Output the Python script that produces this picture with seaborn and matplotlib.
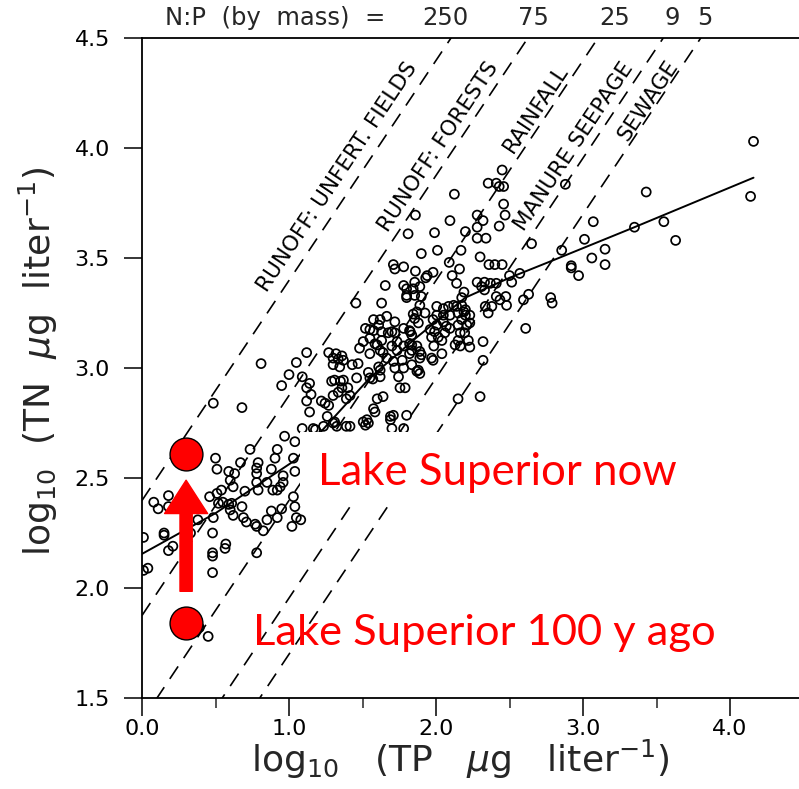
import numpy as np
import pandas as pd
import matplotlib
matplotlib.use("Agg")
import matplotlib.pyplot as plt
import seaborn as sns
from matplotlib.patches import Rectangle, FancyArrowPatch

# ---------------- data ----------------
tp = [
    0.01, 0.01, 0.04, 0.08, 0.11, 0.18, 0.18, 0.15, 0.15, 0.21, 0.18, 0.33, 0.38, 0.45, 0.39,
    0.48, 0.48, 0.48, 0.48, 0.57, 0.565, 0.78, 0.485, 0.68, 0.97, 1.04, 0.735, 0.92, 0.50, 0.67,
    0.79, 0.905, 0.51, 0.59, 0.63, 0.78, 0.78, 0.88, 1.04, 0.60, 0.54, 0.51, 0.62, 0.70, 0.78,
    0.79, 0.85, 0.89, 0.92, 0.96, 0.96, 0.94, 1.03, 1.04, 0.46, 0.52, 0.55, 0.59, 0.61, 0.60,
    0.62, 0.68, 0.69, 0.71, 0.77, 0.78, 0.825, 0.85, 0.88, 0.92, 0.95, 1.02, 0.485, 1.03, 1.08,
    1.05,
    0.81, 0.95, 1.05, 1.12, 1.00, 1.09, 1.14, 1.12, 1.15, 1.12, 1.14, 1.27, 1.30, 1.32, 1.335,
    1.345, 1.30, 1.43, 1.47, 1.31, 1.29, 1.35, 1.37, 1.36, 1.40, 1.335, 1.415, 1.30, 1.46, 1.55,
    1.54, 1.57, 1.62, 1.61, 1.62, 1.64, 1.70, 1.72, 1.675, 1.61, 1.575, 1.55, 1.585, 1.63, 1.48,
    1.62, 1.665, 1.63, 1.39, 1.22, 1.245, 1.27, 1.60, 1.64, 1.665, 1.71, 1.72, 1.745, 1.78, 1.755,
    1.79, 1.835, 1.87, 1.575, 1.585, 1.69, 1.71, 1.80, 1.26, 1.31, 1.39, 1.415, 1.505, 1.52, 1.09,
    1.18, 1.78, 1.165, 1.235, 1.30, 1.325, 1.54, 1.53, 1.69, 1.70, 1.36, 1.37,
    1.655, 1.63, 1.455, 1.575, 1.72, 1.52, 1.55, 1.70, 1.78, 1.825, 1.505, 1.60, 1.735, 1.55, 1.62,
    1.735, 1.835, 1.835,
    1.71, 1.78, 1.72, 1.86, 1.81, 1.99, 2.095, 2.125, 2.28, 2.32, 2.28, 2.20, 2.28, 2.34, 2.45,
    2.355, 2.41, 2.43, 2.46, 2.46, 2.47, 2.43, 1.90, 2.01, 2.17, 2.30, 2.65, 2.09, 2.16, 2.36,
    2.40, 2.45, 1.86, 1.94, 1.98, 1.93, 2.11, 2.14, 1.78, 1.80, 1.855, 1.845, 1.89, 1.80, 1.855,
    1.90, 1.80, 1.89, 1.87, 1.925, 1.845, 2.28, 2.33, 2.31, 2.33, 2.37, 2.41, 2.50, 2.515, 2.57,
    2.19, 2.175, 2.005, 2.05, 2.085, 2.12, 2.14, 2.175, 2.20, 2.005, 2.05, 2.095, 2.15, 2.20, 2.23,
    2.335, 2.38, 2.355, 2.435, 2.475, 2.48, 2.41, 2.595, 2.63,
    1.98, 2.005, 1.99, 1.96, 1.97, 2.015, 2.04, 2.06, 2.07, 2.095, 2.05, 2.15, 2.165, 2.15, 2.195,
    2.23, 2.13, 2.165, 2.22, 2.23, 1.82, 1.835, 1.82, 1.78, 1.89, 1.90, 1.89, 1.98, 2.04, 1.77,
    1.87, 1.82, 2.19, 2.21, 2.175, 1.97, 1.985, 1.88, 1.855, 1.88, 1.89, 2.32, 2.32, 2.30, 2.15,
    2.61,
    4.16, 4.14, 3.43, 2.88, 3.07, 3.01, 3.35, 3.55, 3.63, 2.855, 3.15, 3.15, 3.06, 2.92, 2.92,
    2.97, 2.78, 2.79,
]
tn = [
    2.23, 2.08, 2.09, 2.39, 2.36, 2.42, 2.37, 2.25, 2.24, 2.19, 2.17, 2.25, 2.31, 1.78, 1.82,
    2.25, 2.16, 2.145, 2.07, 2.20, 2.18, 2.16, 2.84, 2.82, 2.69, 2.665, 2.63, 2.63, 2.59, 2.57,
    2.57, 2.59, 2.54, 2.53, 2.52, 2.545, 2.52, 2.54, 2.53, 2.49, 2.445, 2.43, 2.46, 2.44, 2.48,
    2.445, 2.48, 2.445, 2.445, 2.51, 2.48, 2.46, 2.415, 2.37, 2.415, 2.385, 2.39, 2.38, 2.385, 2.355,
    2.33, 2.37, 2.32, 2.30, 2.29, 2.28, 2.26, 2.31, 2.35, 2.32, 2.36, 2.28, 2.32, 2.59, 2.31,
    2.32,
    3.02, 2.92, 3.025, 3.07, 2.97, 2.96, 2.93, 2.91, 2.88, 2.85, 2.80, 3.07, 3.045, 3.065, 3.04,
    3.005, 3.015, 3.015, 3.02, 2.945, 2.94, 2.94, 2.945, 2.91, 2.91, 2.89, 2.875, 2.875, 2.955, 2.955,
    2.98, 2.95, 2.96, 3.005, 2.99, 3.07, 3.10, 3.16, 3.16, 3.195, 3.17, 3.135, 3.11, 3.125, 3.09,
    3.22, 3.235, 3.165, 2.86, 2.85, 2.84, 2.83, 2.86, 2.87, 3.045, 3.03, 3.00, 2.96, 3.00, 2.91,
    2.91, 3.015, 2.985, 2.815, 2.80, 2.78, 2.785, 2.785, 2.78, 2.755, 2.735, 2.735, 2.755, 2.74, 2.725,
    2.72, 2.725, 2.725, 2.735, 2.75, 2.735, 2.75, 2.765, 2.765, 2.725, 3.055, 3.035,
    3.375, 3.295, 3.295, 3.22, 3.21, 3.18, 3.175, 3.165, 3.18, 3.165, 3.12, 3.105, 3.12, 3.065, 3.08,
    3.08, 3.105, 3.08,
    3.47, 3.46, 3.45, 3.695, 3.61, 3.615, 3.67, 3.79, 3.695, 3.67, 3.64, 3.62, 3.59, 3.59, 3.90,
    3.84, 3.84, 3.825, 3.825, 3.745, 3.695, 3.645, 3.52, 3.535, 3.535, 3.505, 3.565, 3.48, 3.45, 3.47,
    3.47, 3.47, 3.44, 3.42, 3.435, 3.41, 3.42, 3.385, 3.375, 3.36, 3.39, 3.36, 3.37, 3.33, 3.33,
    3.325, 3.32, 3.285, 3.255, 3.25, 3.245, 3.39, 3.39, 3.37, 3.355, 3.385, 3.385, 3.42, 3.39, 3.43,
    3.345, 3.32, 3.28, 3.27, 3.28, 3.285, 3.28, 3.285, 3.265, 3.24, 3.24, 3.24, 3.25, 3.24, 3.24,
    3.28, 3.28, 3.25, 3.31, 3.325, 3.285, 3.325, 3.31, 3.335,
    3.22, 3.195, 3.165, 3.175, 3.14, 3.14, 3.125, 3.16, 3.19, 3.18, 3.21, 3.195, 3.16, 3.125, 3.16,
    3.205, 3.105, 3.10, 3.125, 3.095, 3.17, 3.15, 3.11, 3.10, 3.075, 3.06, 3.045, 3.035, 3.065, 3.035,
    3.10, 3.065, 3.255, 3.195, 3.22, 3.045, 3.10, 3.205, 3.225, 2.99, 2.975, 3.12, 3.035, 2.87, 2.86,
    3.18,
    4.03, 3.78, 3.80, 3.835, 3.665, 3.585, 3.64, 3.665, 3.58, 3.535, 3.54, 3.47, 3.50, 3.465, 3.455,
    3.42, 3.32, 3.295,
]

# fitted relation (solid line)
fit_tp = [0.0, 0.5, 1.04, 1.55, 1.87, 2.2, 2.5, 2.78, 3.35, 4.16]
fit_tn = [2.155, 2.34, 2.58, 2.955, 3.14, 3.32, 3.41, 3.485, 3.64, 3.865]

# N:P (by mass) reference ratios
np_ratios = [250, 75, 25, 9, 5]
np_ratio_labels = ["250", "75", "25", "9", "5"]
source_labels = ["RUNOFF: UNFERT. FIELDS", "RUNOFF: FORESTS", "RAINFALL",
                 "MANURE SEEPAGE", "SEWAGE"]

# Lake Superior annotations
lake_tp = [0.3, 0.3]
lake_tn = [1.84, 2.61]
lake_labels = ["Lake Superior 100 y ago", "Lake Superior now"]

x_ticks = [0.0, 1.0, 2.0, 3.0, 4.0]
y_ticks = [1.5, 2.0, 2.5, 3.0, 3.5, 4.0, 4.5]

# ---------------- figure ----------------
sns.set_theme(style="ticks")
plt.rcParams["font.family"] = ["DejaVu Sans"]
plt.rcParams["mathtext.fontset"] = "dejavusans"

W, H = 799, 789
fig = plt.figure(figsize=(W / 100, H / 100), dpi=100)
ax = fig.add_axes([142 / W, (H - 698) / H, (W - 142) / W, 660 / H])

# dashed N:P lines
line_x = np.array([0.0, 4.6])
for r in np_ratios:
    dfl = pd.DataFrame({"tp": line_x, "tn": line_x + np.log10(r)})
    sns.lineplot(data=dfl, x="tp", y="tn", ax=ax, color="black", lw=1.2,
                 linestyle=(0, (9, 6)), estimator=None, sort=False, zorder=2)

# scatter of lakes
df = pd.DataFrame({"tp": tp, "tn": tn})
sns.scatterplot(data=df, x="tp", y="tn", ax=ax, marker="o", s=42,
                facecolor="none", edgecolor="black", linewidth=1.25, zorder=3)
ax.collections[-1].set_facecolor("none")

# fitted line
dff = pd.DataFrame({"tp": fit_tp, "tn": fit_tn})
sns.lineplot(data=dff, x="tp", y="tn", ax=ax, color="black", lw=1.4,
             estimator=None, sort=False, zorder=4)

ax.set_xlim(0, (W - 142) / 147)
ax.set_ylim(1.5, 4.5)

# source labels along dashed lines
src_pos = [(1.327, 3.868), (2.014, 4.005), (2.68, 4.18), (2.939, 4.005), (3.442, 4.218)]
for (sx, sy), lab in zip(src_pos, source_labels):
    ax.text(sx, sy, lab, rotation=45, transform_rotates_text=True,
            rotation_mode="anchor", ha="center", va="center", fontsize=15.5,
            color="black", zorder=4)

# white box behind "now" text
ax.add_patch(Rectangle((1.075, 2.373), 3.3, 2.709 - 2.373, facecolor="white",
                       edgecolor="none", zorder=5))

# arrow and red points
arr = FancyArrowPatch((lake_tp[0], lake_tn[0] + 0.145), (lake_tp[1], lake_tn[1] - 0.12),
                      arrowstyle="simple,head_length=24,head_width=31,tail_width=8.8",
                      mutation_scale=1, color="#ff0000", shrinkA=0, shrinkB=0, zorder=6)
ax.add_patch(arr)
sns.scatterplot(x=lake_tp, y=lake_tn, ax=ax, s=560, color="#ff0000",
                edgecolor="black", linewidth=1.0, zorder=7)

# red text labels
fig.text(318 / W, 1 - 485 / H, lake_labels[1], color="#ff0000", fontsize=31.5,
         family=["Lato", "DejaVu Sans"], ha="left", va="baseline", zorder=8)
fig.text(253 / W, 1 - 645 / H, lake_labels[0], color="#ff0000", fontsize=31.3,
         family=["Lato", "DejaVu Sans"], ha="left", va="baseline", zorder=8)

# top N:P labels
fig.text(275 / W, 1 - 18 / H, "N:P  (by  mass)  =", ha="center", va="center", fontsize=17.5)
for px, lab in zip([445, 533, 615, 672, 704.5], np_ratio_labels):
    fig.text(px / W, 1 - 18 / H, lab, ha="center", va="center", fontsize=17.5)

# axes styling
ax.set_xticks(x_ticks)
ax.set_xticklabels([f"{v:.1f}" for v in x_ticks])
ax.set_xticks([0.5, 1.5, 2.5, 3.5], minor=True)
ax.set_yticks(y_ticks)
ax.set_yticklabels([f"{v:.1f}" for v in y_ticks])
ax.tick_params(axis="both", which="major", direction="out", length=13, width=1.1,
               labelsize=16, colors="black")
ax.tick_params(axis="x", which="major", pad=2)
ax.tick_params(axis="y", which="major", pad=10)
ax.tick_params(axis="x", which="minor", direction="out", length=7, width=1.1)
ax.tick_params(axis="x", which="both", top=False)
ax.tick_params(axis="y", which="both", right=False)
for side in ["left", "bottom", "top"]:
    ax.spines[side].set_visible(True)
    ax.spines[side].set_linewidth(1.3)
    ax.spines[side].set_color("black")
ax.spines["right"].set_visible(False)

ax.set_xlabel(r"log$_{10}$   (TP   $\mu$g   liter$^{-1}$)", fontsize=26)
ax.set_ylabel(r"log$_{10}$  (TN  $\mu$g  liter$^{-1}$)", fontsize=26)
ax.xaxis.set_label_coords(0.484, -0.060)
ax.yaxis.set_label_coords(-0.125, 0.51)

fig.savefig("out.png", dpi=100)
